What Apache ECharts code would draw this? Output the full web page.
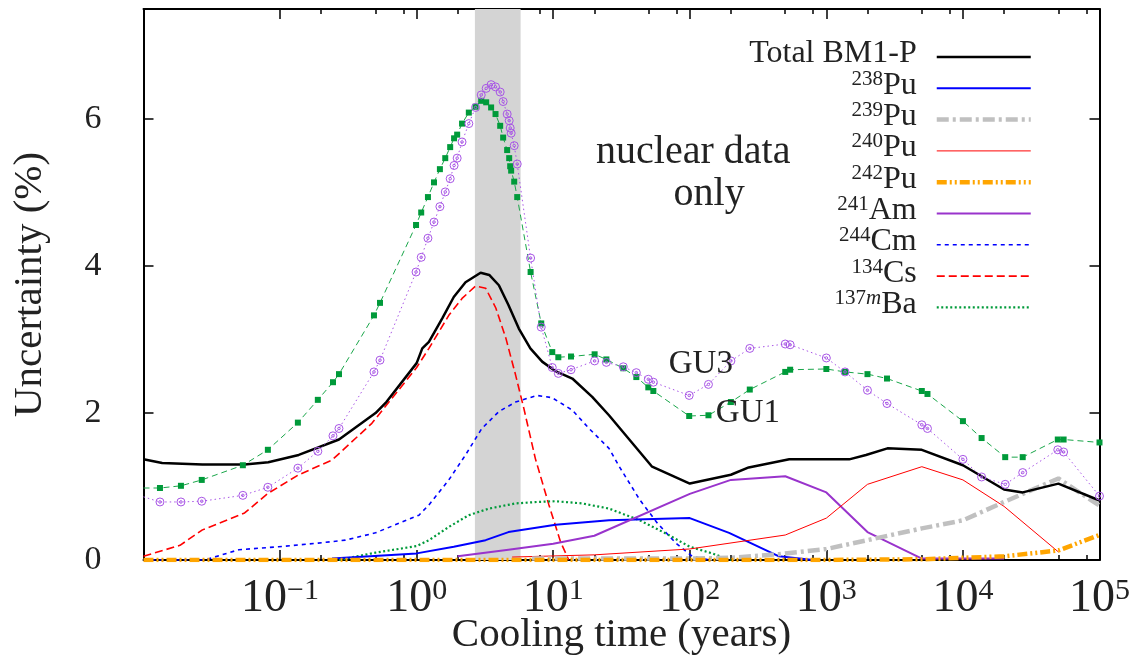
<!DOCTYPE html>
<html>
<head>
<meta charset="utf-8">
<script src="https://cdn.jsdelivr.net/npm/echarts@6/dist/echarts.min.js"></script>
<style>
  html, body { margin: 0; padding: 0; background: #fff; }
  #chart { width: 1131px; height: 656px; }
</style>
</head>
<body>
<div id="chart"></div>
<script>
// Relative uncertainty (%) of decay heat versus cooling time (years)
const totalBM1P = [[0.01,1.37],[0.0137,1.32],[0.027,1.30],[0.055,1.30],[0.082,1.33],[0.137,1.43],[0.27,1.64],[0.5,2.0],[0.6,2.15],[1.0,2.68],[1.1,2.88],[1.23,2.97],[1.54,3.29],[1.87,3.58],[2.28,3.78],[2.94,3.91],[3.4,3.88],[4.0,3.74],[4.7,3.47],[5.6,3.15],[6.8,2.88],[8.3,2.70],[10.4,2.57],[13.8,2.47],[19.3,2.22],[25.6,1.97],[53,1.27],[100,1.04],[200,1.16],[270,1.26],[535,1.37],[1470,1.37],[1950,1.43],[2800,1.52],[5000,1.50],[10000,1.29],[20000,0.96],[27400,0.92],[50000,1.04],[100000,0.81]];
const pu238 = [[0.24,0.02],[1.0,0.09],[1.87,0.18],[3.2,0.27],[4.7,0.38],[10.4,0.48],[25.6,0.54],[100,0.57],[194,0.37],[450,0.05],[800,0.0]];
const pu239 = [[7,0.02],[100,0.02],[200,0.03],[450,0.08],[1000,0.15],[2000,0.27],[5000,0.43],[10000,0.54],[20000,0.79],[50000,1.11],[100000,0.74]];
const pu240 = [[5,0.04],[20,0.07],[100,0.15],[500,0.34],[1000,0.57],[2000,1.03],[5000,1.27],[10000,1.09],[20000,0.73],[50000,0.11]];
const pu242 = [[0.01,0.0],[1000,0.0],[5000,0.01],[20000,0.05],[50000,0.13],[100000,0.34]];
const am241 = [[2,0.05],[4.7,0.14],[10,0.22],[20,0.33],[100,0.90],[200,1.09],[500,1.14],[1000,0.92],[2000,0.38],[5000,0.02],[20000,0.02]];
const cm244 = [[0.01,0],[0.028,0],[0.05,0.14],[0.0975,0.18],[0.19,0.23],[0.3,0.27],[0.5,0.37],[1.04,0.61],[1.23,0.75],[1.72,1.09],[2.28,1.43],[3.0,1.79],[4.0,2.02],[5.3,2.15],[7.6,2.24],[9.8,2.21],[13.8,2.04],[18.3,1.79],[25.6,1.52],[30.5,1.27],[43,0.82],[58,0.50],[79,0.23],[104,0.05],[139,0]];
const cs134 = [[0.01,0.05],[0.0185,0.20],[0.027,0.41],[0.055,0.64],[0.082,0.91],[0.137,1.16],[0.24,1.36],[0.47,1.86],[1.0,2.62],[1.23,2.88],[1.72,3.33],[2.15,3.56],[2.7,3.73],[3.2,3.70],[3.8,3.43],[4.5,3.02],[5.3,2.52],[6.1,2.06],[7.4,1.38],[9.3,0.75],[11.3,0.25],[13,0.0]];
const ba137m = [[0.27,0],[0.5,0.10],[1.0,0.19],[1.23,0.27],[1.72,0.45],[2.41,0.61],[3.38,0.70],[5.3,0.77],[7.6,0.79],[10.4,0.80],[16.3,0.77],[25.6,0.70],[43,0.54],[67,0.36],[100,0.18],[146,0.09],[184,0.02],[200,0]];

// Measured-assembly comparison curves (GU1, GU3)
const gu1 = [[0.01,0.98],[0.0132,0.98],[0.0188,1.01],[0.0267,1.09],[0.0534,1.29],[0.0814,1.50],[0.135,1.87],[0.189,2.18],[0.244,2.42],[0.27,2.53],[0.487,3.33],[0.539,3.50],[0.99,4.56],[1.08,4.73],[1.21,4.94],[1.34,5.14],[1.48,5.32],[1.62,5.47],[1.76,5.62],[1.88,5.74],[1.98,5.79],[2.15,5.94],[2.41,6.09],[2.70,6.17],[2.97,6.25],[3.23,6.23],[3.51,6.16],[3.78,6.07],[4.09,5.91],[4.30,5.75],[4.60,5.58],[4.76,5.47],[4.84,5.36],[4.92,5.30],[5.18,5.15],[5.45,4.94],[6.83,3.92],[8.17,3.22],[9.84,2.83],[10.9,2.76],[13.5,2.77],[20.1,2.80],[24.5,2.73],[32.6,2.61],[40.6,2.49],[49.7,2.35],[54.1,2.30],[99,1.96],[137,1.97],[200,2.15],[275,2.32],[500,2.56],[543,2.59],[1000,2.60],[1370,2.56],[2000,2.53],[2780,2.47],[5000,2.30],[5500,2.26],[10000,1.89],[13700,1.66],[20400,1.40],[27400,1.40],[49500,1.64],[54600,1.64],[100000,1.60]];
const gu3 = [[0.01,0.86],[0.0132,0.79],[0.0188,0.79],[0.0267,0.80],[0.0534,0.88],[0.0814,0.99],[0.135,1.25],[0.189,1.48],[0.244,1.69],[0.27,1.79],[0.487,2.56],[0.539,2.72],[0.99,3.92],[1.08,4.12],[1.21,4.38],[1.34,4.60],[1.48,4.81],[1.62,5.01],[1.76,5.19],[1.88,5.37],[1.98,5.47],[2.15,5.69],[2.41,5.94],[2.70,6.16],[2.97,6.33],[3.23,6.42],[3.51,6.47],[3.78,6.44],[4.09,6.37],[4.30,6.24],[4.60,6.07],[4.76,5.98],[4.84,5.88],[4.92,5.81],[5.18,5.64],[5.45,5.39],[6.83,4.11],[8.17,3.17],[9.84,2.62],[10.9,2.54],[13.5,2.59],[20.1,2.71],[24.5,2.69],[32.6,2.63],[40.6,2.55],[49.7,2.46],[54.1,2.42],[99,2.24],[137,2.39],[200,2.71],[275,2.88],[500,2.94],[543,2.93],[1000,2.75],[1370,2.56],[2000,2.31],[2780,2.13],[5000,1.84],[5500,1.79],[10000,1.37],[13700,1.13],[20400,1.03],[27400,1.19],[49500,1.50],[54600,1.47],[100000,0.87]];

// Axis ticks
const xMinorTicks = [0.2,0.5,0.8, 2,5,8, 20,50,80, 200,500,800, 2000,5000,8000, 20000,50000,80000];
const yTicks = [0, 2, 4, 6];
// Shaded cooling-time window (years)
const coolingWindow = [2.67, 5.77];

// Legend labels (isotope mass numbers as superscripts)
const legendLabels = {
  'Total BM1-P': '{el|Total BM1-P}',
  '238Pu': '{sup|238}{el|Pu}',
  '239Pu': '{sup|239}{el|Pu}',
  '240Pu': '{sup|240}{el|Pu}',
  '242Pu': '{sup|242}{el|Pu}',
  '241Am': '{sup|241}{el|Am}',
  '244Cm': '{sup|244}{el|Cm}',
  '134Cs': '{sup|134}{el|Cs}',
  '137mBa': '{sup|137}{supi|m}{el|Ba}'
};

const SERIF = '"Liberation Serif", "DejaVu Serif", serif';
const INK = '#222';
const RING = 'path://M0,-5A5,5 0 1,1 0,5A5,5 0 1,1 0,-5ZM0,-1.6A1.6,1.6 0 1,0 0,1.6A1.6,1.6 0 1,0 0,-1.6Z';

function curve(name, data, color, width, dash, extra) {
  return Object.assign({
    name: name,
    type: 'line',
    data: data,
    symbol: 'none',
    showSymbol: false,
    clip: true,
    lineStyle: { color: color, width: width, type: dash || 'solid', cap: 'butt' },
    itemStyle: { color: color },
    emphasis: { disabled: true },
    z: 3
  }, extra || {});
}

function firstNoSymbol(data) {
  return data.map((p, i) => i === 0 ? { value: p, symbol: 'none' } : p);
}

const textLabel = (name, coord, size) => ({
  name: name, coord: coord, symbolSize: 0,
  label: { show: true, position: 'inside', formatter: '{b}', color: INK, fontFamily: SERIF, fontSize: size }
});

const chart = echarts.init(document.getElementById('chart'), null, { renderer: 'canvas' });

const option = {
  animation: false,
  backgroundColor: '#fff',
  grid: { left: 143.5, right: 31.5, top: 9, bottom: 96, outerBoundsMode: 'none', containLabel: false },
  legend: {
    orient: 'vertical',
    right: 93,
    top: 33,
    align: 'right',
    itemWidth: 94,
    itemHeight: 14,
    itemGap: -3.7,
    selectedMode: false,
    data: Object.keys(legendLabels),
    formatter: name => legendLabels[name],
    lineStyle: { width: 'inherit' },
    itemStyle: { opacity: 0 },
    textStyle: {
      fontFamily: SERIF, fontSize: 32, color: INK, lineHeight: 25, padding: [0, 15, 6, 0],
      rich: {
        el: { fontFamily: SERIF, fontSize: 32, color: INK, lineHeight: 25 },
        sup: { fontFamily: SERIF, fontSize: 21, color: INK, lineHeight: 13, verticalAlign: 'top', padding: [-4, 0, 0, 0] },
        supi: { fontFamily: SERIF, fontSize: 21, fontStyle: 'italic', color: INK, lineHeight: 13, verticalAlign: 'top', padding: [-4, 0, 0, 0] }
      }
    }
  },
  xAxis: [
    {
      type: 'log', logBase: 10, min: 0.01, max: 100000, interval: 1,
      position: 'bottom',
      name: 'Cooling time (years)', nameLocation: 'middle', nameGap: 55, nameMoveOverlap: false,
      nameTextStyle: { fontFamily: SERIF, fontSize: 41, color: INK },
      axisLine: { show: true, onZero: false, lineStyle: { color: '#000', width: 2 } },
      axisTick: { show: true, inside: true, length: 10, lineStyle: { color: '#000', width: 1.5 } },
      minorTick: { show: false },
      splitLine: { show: false },
      axisLabel: {
        show: true, margin: 16, color: INK, showMinLabel: true, showMaxLabel: true, hideOverlap: false,
        formatter: v => {
          const e = Math.round(Math.log10(v));
          if (e === -2) return '';
          return '{b|10}{s|' + (e < 0 ? '\u2212' + (-e) : e) + '}';
        },
        rich: {
          b: { fontFamily: SERIF, fontSize: 46, lineHeight: 45, color: INK },
          s: { fontFamily: SERIF, fontSize: 30, lineHeight: 34, color: INK, verticalAlign: 'top', padding: [0, 0, 0, 0] }
        }
      }
    },
    {
      type: 'value', min: -2, max: 5, position: 'bottom',
      axisLine: { show: false, onZero: false },
      axisTick: { show: true, inside: true, length: 5, customValues: xMinorTicks.map(Math.log10), lineStyle: { color: '#000', width: 1.5 } },
      axisLabel: { show: false },
      splitLine: { show: false }
    },
    {
      type: 'log', logBase: 10, min: 0.01, max: 100000, interval: 1, position: 'top',
      axisLine: { show: true, onZero: false, lineStyle: { color: '#000', width: 2 } },
      axisTick: { show: true, inside: true, length: 10, lineStyle: { color: '#000', width: 1.5 } },
      axisLabel: { show: false },
      splitLine: { show: false }
    },
    {
      type: 'value', min: -2, max: 5, position: 'top',
      axisLine: { show: false, onZero: false },
      axisTick: { show: true, inside: true, length: 5, customValues: xMinorTicks.map(Math.log10), lineStyle: { color: '#000', width: 1.5 } },
      axisLabel: { show: false },
      splitLine: { show: false }
    }
  ],
  yAxis: [
    {
      type: 'value', min: 0, max: 7.5, position: 'left',
      name: 'Uncertainty (%)', nameLocation: 'middle', nameGap: 93, nameMoveOverlap: false,
      nameTextStyle: { fontFamily: SERIF, fontSize: 41, color: INK },
      axisLine: { show: true, onZero: false, lineStyle: { color: '#000', width: 2 } },
      axisTick: { show: true, inside: true, length: 10, customValues: yTicks, lineStyle: { color: '#000', width: 1.5 } },
      axisLabel: { show: true, customValues: yTicks, margin: 42, fontFamily: SERIF, fontSize: 34, color: INK, padding: [4, 0, 0, 0] },
      splitLine: { show: false }
    },
    {
      type: 'value', min: 0, max: 7.5, position: 'right',
      axisLine: { show: true, onZero: false, lineStyle: { color: '#000', width: 2 } },
      axisTick: { show: true, inside: true, length: 10, customValues: yTicks, lineStyle: { color: '#000', width: 1.5 } },
      axisLabel: { show: false },
      splitLine: { show: false }
    }
  ],
  series: [
    {
      name: 'window', type: 'line', data: [], z: 1, silent: true,
      markArea: {
        silent: true,
        itemStyle: { color: '#d4d4d4', opacity: 1 },
        data: [[{ xAxis: coolingWindow[0] }, { xAxis: coolingWindow[1] }]]
      }
    },
    curve('134Cs', cs134, '#ff0000', 1.6, [8, 4]),
    curve('244Cm', cm244, '#0000ff', 1.6, [4, 4]),
    curve('137mBa', ba137m, '#009a3a', 2.2, [2, 2.5]),
    curve('238Pu', pu238, '#0000ff', 2),
    curve('241Am', am241, '#9933cc', 2),
    curve('240Pu', pu240, '#ff0000', 1),
    curve('239Pu', pu239, '#c0c0c0', 4.5, [12, 4, 3, 4]),
    curve('242Pu', pu242, '#ffa500', 4.5, [10, 3, 2, 3, 2, 3]),
    curve('Total BM1-P', totalBM1P, '#000000', 2.5, 'solid', {
      markPoint: {
        silent: true, symbol: 'circle',
        data: [textLabel('nuclear data', [106, 5.55], 40), textLabel('only', [138.5, 4.98], 40)]
      }
    }),
    curve('GU1', firstNoSymbol(gu1), '#1aa64a', 1, [6, 4], {
      symbol: 'rect', symbolSize: 6, showSymbol: true,
      itemStyle: { color: '#009a3a' },
      markPoint: { silent: true, symbol: 'circle', data: [textLabel('GU1', [266.6, 1.99], 33)] },
      z: 4
    }),
    curve('GU3', firstNoSymbol(gu3), '#a855e6', 1, [1.5, 3], {
      symbol: RING, symbolSize: 8, showSymbol: true,
      itemStyle: { color: 'rgba(0,0,0,0)', borderColor: '#a855e6', borderWidth: 1 },
      markPoint: { silent: true, symbol: 'circle', data: [textLabel('GU3', [120.5, 2.66], 33)] },
      z: 4
    })
  ]
};

chart.setOption(option);
</script>
</body>
</html>
